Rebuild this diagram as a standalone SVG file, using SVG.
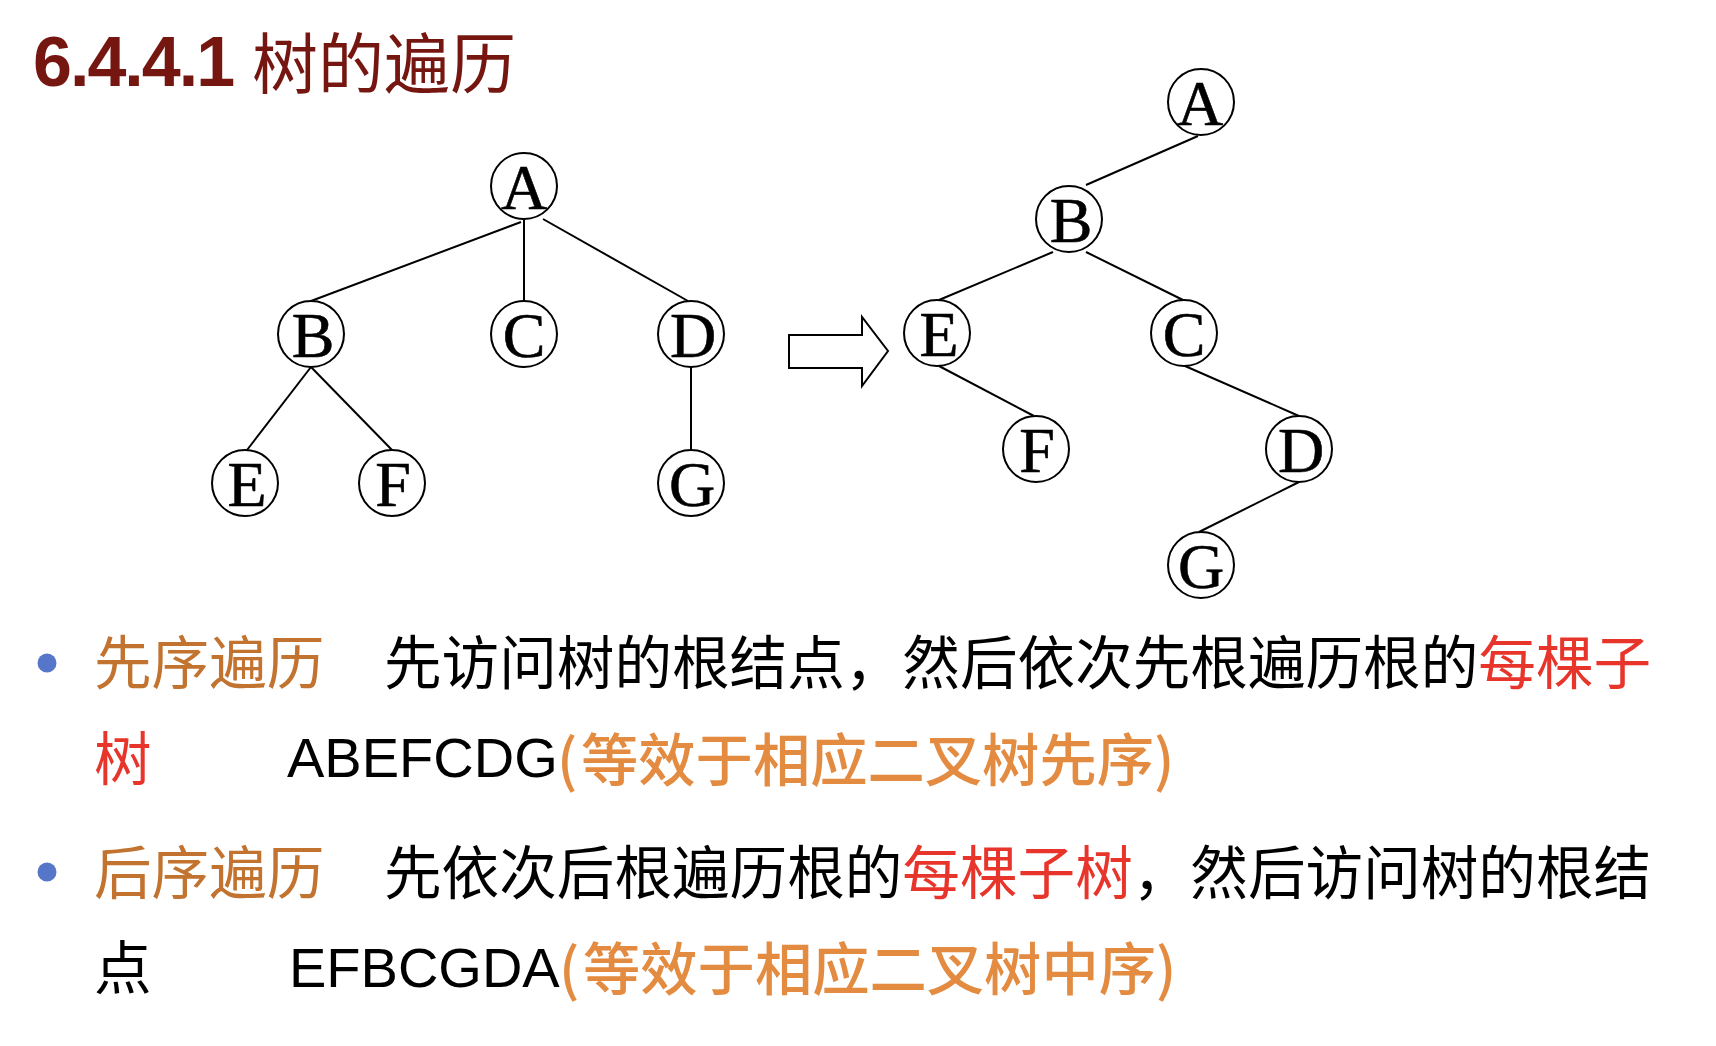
<svg xmlns="http://www.w3.org/2000/svg" width="1716" height="1046" viewBox="0 0 1716 1046">
<style>
.node circle{fill:#fff;stroke:#000;stroke-width:2}
.node text{font-family:"Liberation Serif","Times New Roman",serif;font-size:64px;text-anchor:middle;fill:#000;stroke:#000;stroke-width:0.6}
.edge line{stroke:#000;stroke-width:2}
.cjk{font-family:"Noto Sans CJK SC","Noto Sans CJK JP",sans-serif;font-size:57.6px}
.lat{font-family:"Liberation Sans",Arial,sans-serif;font-size:56px;fill:#000}
.par{font-family:"Noto Sans CJK SC",sans-serif;font-size:57.3px;fill:#E38B40;font-weight:500}
.head{fill:#C2732F}
.red{fill:#E8352B}
.blk{fill:#000}
.bullet{fill:#5676C9}
</style>
<rect width="1716" height="1046" fill="#fff"/>
<g id="title">
<text x="33" y="86" font-family="Liberation Sans,Arial,sans-serif" font-weight="bold" font-size="70" letter-spacing="-2" fill="#761610">6.4.4.1</text>
<text x="252" y="88" font-family="Noto Sans CJK SC,sans-serif" font-size="66" fill="#761610">树的遍历</text>
</g>
<g id="connectors" class="edge">
<line x1="521" y1="222" x2="311" y2="301"/>
<line x1="524" y1="219" x2="524" y2="301"/>
<line x1="543" y1="219" x2="688" y2="301"/>
<line x1="311" y1="367" x2="247" y2="450"/>
<line x1="311" y1="367" x2="392" y2="450"/>
<line x1="691" y1="367" x2="691" y2="450"/>
<line x1="1198" y1="136" x2="1086" y2="185"/>
<line x1="1053" y1="252" x2="939" y2="300"/>
<line x1="1086" y1="252" x2="1183" y2="300"/>
<line x1="939" y1="366" x2="1034" y2="416"/>
<line x1="1185" y1="366" x2="1299" y2="416"/>
<line x1="1299" y1="482" x2="1199" y2="532"/>
</g>
<g id="arrow">
<path d="M789,335 H862 V317 L888,351 L862,386 V368 H789 Z" fill="#fff" stroke="#000" stroke-width="2"/>
</g>
<g id="L_A" class="node"><circle cx="524" cy="186" r="33"/><text x="524" y="209">A</text></g>
<g id="L_B" class="node"><circle cx="311" cy="334" r="33"/><text x="313" y="357">B</text></g>
<g id="L_C" class="node"><circle cx="524" cy="334" r="33"/><text x="524" y="357">C</text></g>
<g id="L_D" class="node"><circle cx="691" cy="334" r="33"/><text x="693" y="357">D</text></g>
<g id="L_E" class="node"><circle cx="245" cy="483" r="33"/><text x="247" y="506">E</text></g>
<g id="L_F" class="node"><circle cx="392" cy="483" r="33"/><text x="393" y="506">F</text></g>
<g id="L_G" class="node"><circle cx="691" cy="483" r="33"/><text x="692" y="506">G</text></g>
<g id="R_A" class="node"><circle cx="1201" cy="102" r="33"/><text x="1200" y="125">A</text></g>
<g id="R_B" class="node"><circle cx="1069" cy="219" r="33"/><text x="1071" y="242">B</text></g>
<g id="R_E" class="node"><circle cx="937" cy="333" r="33"/><text x="939" y="356">E</text></g>
<g id="R_C" class="node"><circle cx="1184" cy="333" r="33"/><text x="1184" y="356">C</text></g>
<g id="R_F" class="node"><circle cx="1036" cy="449" r="33"/><text x="1037" y="472">F</text></g>
<g id="R_D" class="node"><circle cx="1299" cy="449" r="33"/><text x="1301" y="472">D</text></g>
<g id="R_G" class="node"><circle cx="1201" cy="565" r="33"/><text x="1201" y="588">G</text></g>
<g id="text_preorder">
<circle class="bullet" cx="47" cy="663" r="9.5"/>
<text class="cjk head" x="94" y="684">先序遍历</text>
<text class="cjk blk" x="384" y="684">先访问树的根结点，然后依次先根遍历根的<tspan class="red">每棵子</tspan></text>
<text class="cjk red" x="94" y="780">树</text>
<text class="lat" x="287" y="777">ABEFCDG</text>
<text class="par" x="557" y="781" font-family="Liberation Sans,sans-serif">(</text>
<text class="par" x="581" y="781">等效于相应二叉树先序</text>
<text class="par" x="1154" y="781" font-family="Liberation Sans,sans-serif">)</text>
</g>
<g id="text_postorder">
<circle class="bullet" cx="47" cy="872" r="9.5"/>
<text class="cjk head" x="94" y="894">后序遍历</text>
<text class="cjk blk" x="384" y="894">先依次后根遍历根的<tspan class="red">每棵子树</tspan>，然后访问树的根结</text>
<text class="cjk blk" x="94" y="989">点</text>
<text class="lat" x="289" y="987">EFBCGDA</text>
<text class="par" x="559" y="990" font-family="Liberation Sans,sans-serif">(</text>
<text class="par" x="583" y="990">等效于相应二叉树中序</text>
<text class="par" x="1156" y="990" font-family="Liberation Sans,sans-serif">)</text>
</g>
</svg>
